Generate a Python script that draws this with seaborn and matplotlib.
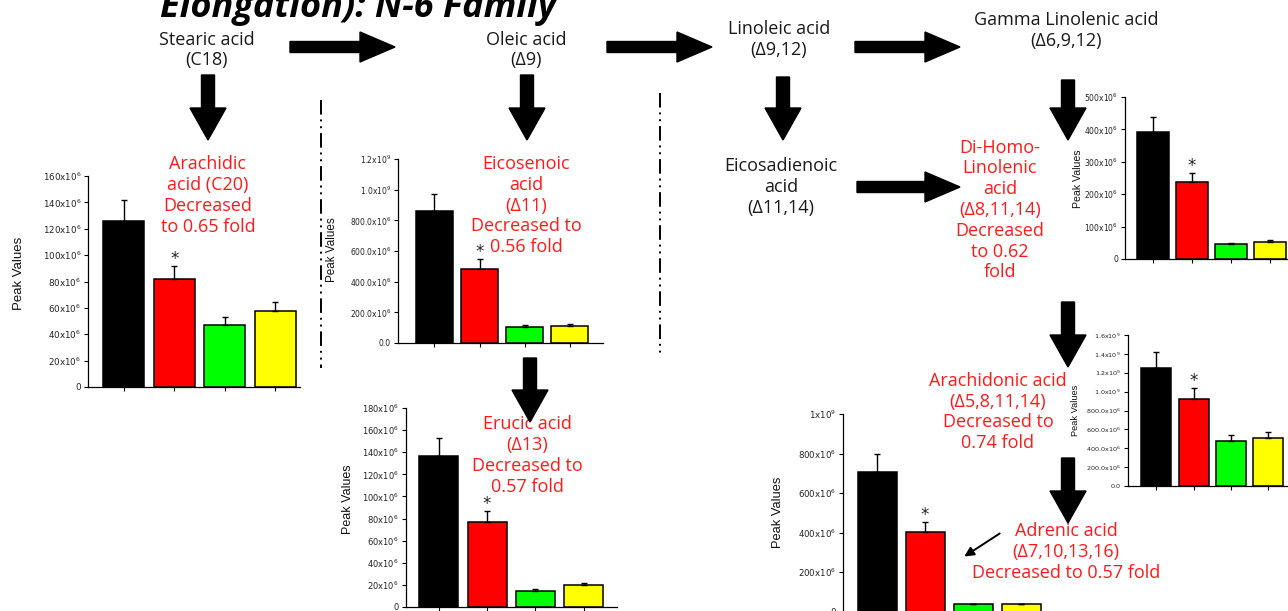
import matplotlib
matplotlib.use('Agg')
import matplotlib.pyplot as plt
from matplotlib import font_manager
from matplotlib.patches import FancyArrow
import seaborn as sns

sns.set_theme(style='ticks')
plt.rcParams['font.family'] = ['Open Sans', 'DejaVu Sans']

W, H = 1288, 611

# %% data (peak values in units of 10^6, upper error bars)
groups = ['G1', 'G2', 'G3', 'G4']
bar_colors = ['#000000', '#ff0000', '#00ff00', '#ffff00']

arachidic_vals = [126, 82, 47, 58]
arachidic_err = [16, 10, 6, 6.5]
arachidic_ticks = [0, 20, 40, 60, 80, 100, 120, 140, 160]
arachidic_labels = ['0', '20x10$^6$', '40x10$^6$', '60x10$^6$', '80x10$^6$',
                    '100x10$^6$', '120x10$^6$', '140x10$^6$', '160x10$^6$']

eicosenoic_vals = [860, 485, 105, 112]
eicosenoic_err = [110, 65, 15, 15]
eicosenoic_ticks = [0, 200, 400, 600, 800, 1000, 1200]
eicosenoic_labels = ['0.0', '200.0x10$^6$', '400.0x10$^6$', '600.0x10$^6$',
                     '800.0x10$^6$', '1.0x10$^9$', '1.2x10$^9$']

gla_vals = [392, 238, 46, 52]
gla_err = [46, 27, 2, 6]
gla_ticks = [0, 100, 200, 300, 400, 500]
gla_labels = ['0', '100x10$^6$', '200x10$^6$', '300x10$^6$', '400x10$^6$', '500x10$^6$']

erucic_vals = [136.5, 77, 14.5, 20]
erucic_err = [16, 10, 2, 2]
erucic_ticks = [0, 20, 40, 60, 80, 100, 120, 140, 160, 180]
erucic_labels = ['0', '20x10$^6$', '40x10$^6$', '60x10$^6$', '80x10$^6$', '100x10$^6$',
                 '120x10$^6$', '140x10$^6$', '160x10$^6$', '180x10$^6$']

arachidonic_vals = [1250, 922, 477, 508]
arachidonic_err = [170, 118, 63, 64]
arachidonic_ticks = [0, 200, 400, 600, 800, 1000, 1200, 1400, 1600]
arachidonic_labels = ['0.0', '200.0x10$^6$', '400.0x10$^6$', '600.0x10$^6$', '800.0x10$^6$',
                      '1.0x10$^9$', '1.2x10$^9$', '1.4x10$^9$', '1.6x10$^9$']

adrenic_vals = [706, 403, 38, 38]
adrenic_err = [91, 50, 2, 2]
adrenic_ticks = [0, 200, 400, 600, 800, 1000]
adrenic_labels = ['0', '200x10$^6$', '400x10$^6$', '600x10$^6$', '800x10$^6$', '1x10$^9$']

# %% fonts
available = {f.name for f in font_manager.fontManager.ttflist}
if 'Liberation Sans Narrow' in available:
    label_font, label_scale = 'Liberation Sans Narrow', 1.0
else:
    label_font, label_scale = 'Liberation Sans', 0.85

fig = plt.figure(figsize=(W / 100, H / 100), dpi=100)
fig.patch.set_facecolor('white')

# background axes in pixel coordinates for the pathway diagram
bg = fig.add_axes([0, 0, 1, 1])
bg.set_xlim(0, W)
bg.set_ylim(H, 0)
bg.axis('off')

TXT = dict(ha='center', va='center', fontsize=13, linespacing=1.2)
dark = '#1a1a1a'
red = '#ff1a1a'

bg.text(358, 17, 'Elongation): N-6 Family', ha='center', va='baseline',
        fontsize=26, fontweight='bold', fontstyle='italic', color='black')

bg.text(207, 50, 'Stearic acid\n(C18)', color=dark, **TXT)
bg.text(526, 50, 'Oleic acid\n(Δ9)', color=dark, **TXT)
bg.text(779, 39.5, 'Linoleic acid\n(Δ9,12)', color=dark, **TXT)
bg.text(1066, 30.5, 'Gamma Linolenic acid\n(Δ6,9,12)', color=dark, **TXT)
bg.text(781, 187, 'Eicosadienoic\nacid\n(Δ11,14)', color=dark, **TXT)

bg.text(208, 195.5, 'Arachidic\nacid (C20)\nDecreased\nto 0.65 fold', color=red, **TXT)
bg.text(526, 205.5, 'Eicosenoic\nacid\n(Δ11)\nDecreased to\n0.56 fold', color=red, **TXT)
bg.text(1000, 210, 'Di-Homo-\nLinolenic\nacid\n(Δ8,11,14)\nDecreased\nto 0.62\nfold', color=red, **TXT)
bg.text(527, 455.5, 'Erucic acid\n(Δ13)\nDecreased to\n0.57 fold', color=red, **TXT)
bg.text(998, 412, 'Arachidonic acid\n(Δ5,8,11,14)\nDecreased to\n0.74 fold', color=red, **TXT)
bg.text(1066, 552, 'Adrenic acid\n(Δ7,10,13,16)\nDecreased to 0.57 fold', color=red, **TXT)

# block arrows
for x0, x1, y in [(290, 395, 47), (607, 712, 47), (855, 960, 47), (857, 960, 187)]:
    bg.add_patch(FancyArrow(x0, y, x1 - x0, 0, width=11, head_width=30, head_length=35,
                            length_includes_head=True, color='black', zorder=3))
for x, y0, y1 in [(208, 75, 140), (527, 75, 140), (783, 77, 140), (1068, 80, 140),
                  (530, 358, 422), (1068, 302, 367), (1068, 458, 523)]:
    bg.add_patch(FancyArrow(x, y0, 0, y1 - y0, width=13, head_width=36, head_length=32,
                            length_includes_head=True, color='black', zorder=3))

bg.annotate('', xy=(962, 558), xytext=(1002, 532),
            arrowprops=dict(arrowstyle='-|>', color='black', lw=1.4, mutation_scale=14))

# dash-dot dividers
dashdot = (0, (7.5, 2.5, 1, 2.5, 1, 2.5))
bg.plot([321, 321], [100, 368], color='black', lw=1.4, linestyle=dashdot)
bg.plot([660, 660], [93, 355], color='black', lw=1.4, linestyle=dashdot)


def bar_panel(box, xlim, ymax, vals, errs, ticks, labels, tick_fs, ylab_fs, ylab_xy):
    left, top, right, bottom = box
    ax = fig.add_axes([left / W, 1 - bottom / H, (right - left) / W, (bottom - top) / H])
    ax.patch.set_alpha(0)
    sns.barplot(x=groups, y=vals, hue=groups, palette=bar_colors, legend=False,
                saturation=1, width=0.81, edgecolor='black', linewidth=1.1, ax=ax)
    ax.errorbar(range(4), vals, yerr=[[0] * 4, errs], fmt='none', ecolor='black',
                elinewidth=1, capsize=2.5, capthick=1, zorder=3)
    ax.annotate('*', (1, vals[1] + errs[1]), xytext=(0, 1.5), textcoords='offset points',
                ha='center', va='baseline', fontsize=12, family='DejaVu Sans', color='#222')
    ax.set_xlim(xlim)
    ax.set_ylim(0, ymax)
    ax.set_yticks(ticks)
    ax.set_yticklabels(labels, fontsize=tick_fs, family='DejaVu Sans', color='#222')
    ax.set_xticks(range(4))
    ax.set_xticklabels([])
    ax.set_xlabel('')
    ax.tick_params(direction='out', length=3, width=0.8, color='black', pad=2)
    sns.despine(ax=ax)
    for s in ['left', 'bottom']:
        ax.spines[s].set_color('black')
        ax.spines[s].set_linewidth(0.9)
    ax.set_ylabel('Peak Values', fontsize=ylab_fs * label_scale, family=label_font,
                  color='#111', va='center')
    ax.yaxis.set_label_coords((ylab_xy[0] - left) / (right - left),
                              (bottom - ylab_xy[1]) / (bottom - top))
    return ax


bar_panel((88, 176, 300, 387), (-0.71, 3.49), 160, arachidic_vals, arachidic_err,
          arachidic_ticks, arachidic_labels, 6.3, 11.2, (19, 273))
bar_panel((398, 159, 603, 343), (-0.81, 3.74), 1200, eicosenoic_vals, eicosenoic_err,
          eicosenoic_ticks, eicosenoic_labels, 5.5, 9.9, (332, 250))
bar_panel((1125, 97, 1288, 259), (-0.72, 3.46), 500, gla_vals, gla_err,
          gla_ticks, gla_labels, 5.5, 8.9, (1078, 179))
bar_panel((406, 408, 617, 607), (-0.68, 3.69), 180, erucic_vals, erucic_err,
          erucic_ticks, erucic_labels, 6.0, 10.6, (348, 499))
bar_panel((1128, 335, 1288, 486), (-0.76, 3.53), 1600, arachidonic_vals, arachidonic_err,
          arachidonic_ticks, arachidonic_labels, 4.6, 7.8, (1075, 410))
bar_panel((843, 414, 1050, 611.5), (-0.71, 3.6), 1000, adrenic_vals, adrenic_err,
          adrenic_ticks, adrenic_labels, 6.2, 10.9, (778, 512))

fig.savefig('out.png', dpi=100, facecolor='white')
